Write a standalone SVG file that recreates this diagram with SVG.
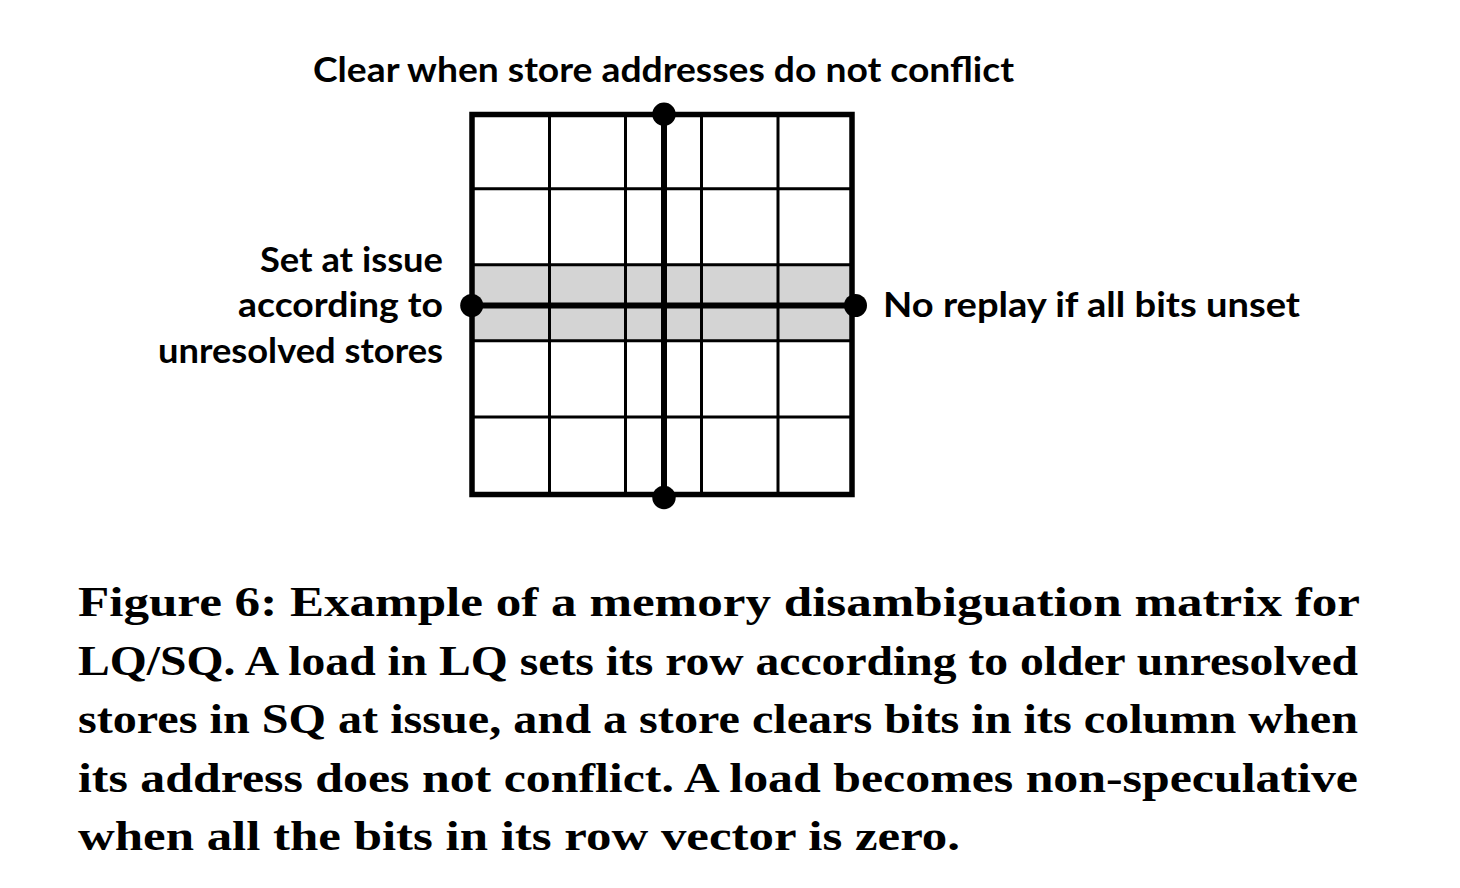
<svg xmlns="http://www.w3.org/2000/svg" width="1460" height="888" viewBox="0 0 1460 888">
<style>
.lbl{font-family:Lato,"Open Sans","Liberation Sans",sans-serif;font-size:34px;font-weight:bold;fill:#000}
.cap{font-family:"Liberation Serif","DejaVu Serif",serif;font-size:43px;font-weight:bold;fill:#000}
.thin{stroke:#000;stroke-width:3;fill:none}
.thick{stroke:#000;stroke-width:6;fill:none}
.dot{fill:#000}
</style>
<rect width="1460" height="888" fill="#fff"/>
<g id="matrix">
<rect x="472" y="264.7" width="380" height="76.1" fill="#d4d4d4"/>
<path class="thin" d="M549.5 114.5V494.5M625.5 114.5V494.5M701.5 114.5V494.5M778 114.5V494.5M472 188.7H852M472 264.7H852M472 340.8H852M472 417H852"/>
<rect x="472" y="114.5" width="380" height="380" fill="none" stroke="#000" stroke-width="5.5"/>
</g>
<g id="connectors">
<line class="thick" x1="664" y1="114" x2="664" y2="497"/>
<line class="thick" x1="471.5" y1="305.5" x2="855.5" y2="305.5"/>
</g>
<g id="node-top"><circle class="dot" cx="664" cy="114.3" r="11.7"/></g>
<g id="node-bottom"><circle class="dot" cx="664" cy="497.5" r="11.7"/></g>
<g id="node-left"><circle class="dot" cx="471.7" cy="305.5" r="11.5"/></g>
<g id="node-right"><circle class="dot" cx="855.5" cy="305.5" r="11.5"/></g>
<g id="labels">
<text class="lbl" x="313" y="82" textLength="701" lengthAdjust="spacingAndGlyphs">Clear when store addresses do not conflict</text>
<text class="lbl" x="260" y="271.5" textLength="183" lengthAdjust="spacingAndGlyphs">Set at issue</text>
<text class="lbl" x="238" y="317" textLength="205" lengthAdjust="spacingAndGlyphs">according to</text>
<text class="lbl" x="158" y="362.5" textLength="285" lengthAdjust="spacingAndGlyphs">unresolved stores</text>
<text class="lbl" x="883" y="317" textLength="417" lengthAdjust="spacingAndGlyphs">No replay if all bits unset</text>
</g>
<g id="caption">
<text class="cap" x="78" y="616" textLength="1282" lengthAdjust="spacingAndGlyphs">Figure 6: Example of a memory disambiguation matrix for</text>
<text class="cap" x="78" y="674.5" textLength="1280" lengthAdjust="spacingAndGlyphs">LQ/SQ. A load in LQ sets its row according to older unresolved</text>
<text class="cap" x="78" y="733" textLength="1280" lengthAdjust="spacingAndGlyphs">stores in SQ at issue, and a store clears bits in its column when</text>
<text class="cap" x="78" y="791.5" textLength="1280" lengthAdjust="spacingAndGlyphs">its address does not conflict. A load becomes non-speculative</text>
<text class="cap" x="78" y="850" textLength="882" lengthAdjust="spacingAndGlyphs">when all the bits in its row vector is zero.</text>
</g>
</svg>
